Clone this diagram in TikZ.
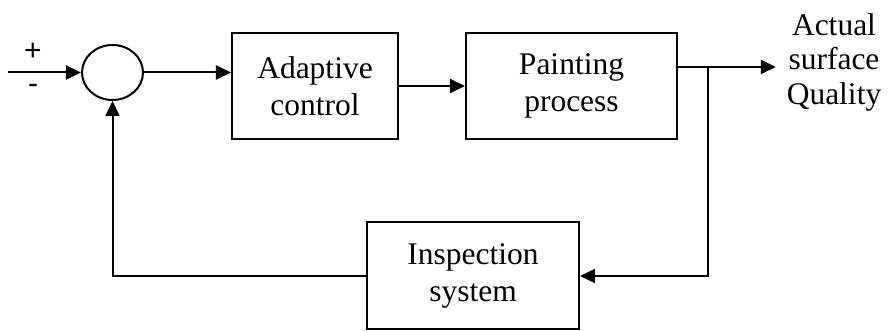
\documentclass[tikz,border=0pt]{standalone}
\usepackage{fontspec}
\setmainfont{Liberation Serif}
\newfontfamily\signfont{Liberation Sans}
\usetikzlibrary{arrows.meta,shapes.geometric,positioning,calc}

\begin{document}
\begin{tikzpicture}[
    x=0.4pt, y=-0.4pt,
    blk/.style={draw, line width=0.8pt, align=center, font=\fontsize{12.6}{14.8}\selectfont},
    sumnode/.style={draw, ellipse, line width=0.8pt, minimum width=24.4pt, minimum height=22pt, inner sep=0pt},
    arr/.style={-{Triangle[length=6pt, width=5.6pt]}, line width=0.8pt},
    sgn/.style={font=\signfont\fontsize{12}{14}\selectfont, inner sep=0pt}
]
\useasboundingbox (0,0) rectangle (889,331);

\node[sumnode] (sum) at (112.5,72.5) {};
\node[blk, minimum width=66.4pt, minimum height=42.4pt] (adapt) at (315,86) {Adaptive\\control};
\node[blk, minimum width=84.4pt, minimum height=42.4pt] (paint) at (571.5,86) {Painting\\process};
\node[blk, minimum width=84.8pt, minimum height=42.8pt] (insp) at (473,276) {Inspection\\system};
\node[blk, draw=none, inner sep=4pt, font=\fontsize{12.6}{13.8}\selectfont] (out) at (834,62) {Actual\\surface\\Quality};

\coordinate (in) at (8,72.5);
\coordinate (tap) at (708,67);
\node[sgn] (plus) at (33,52) {+};
\node[sgn] (minus) at (33,89) {-};

% forward path
\draw[arr] (in) -- (sum.west);
\draw[arr] (sum.east) -- (sum.east -| adapt.west);
\draw[arr] (adapt) -- (paint);
\draw[arr] (paint.east |- tap) -- (out.west |- tap);

% feedback path
\draw[arr] (tap) |- (insp.east);
\draw[arr] (insp.west) -| (sum.south);
\end{tikzpicture}
\end{document}
